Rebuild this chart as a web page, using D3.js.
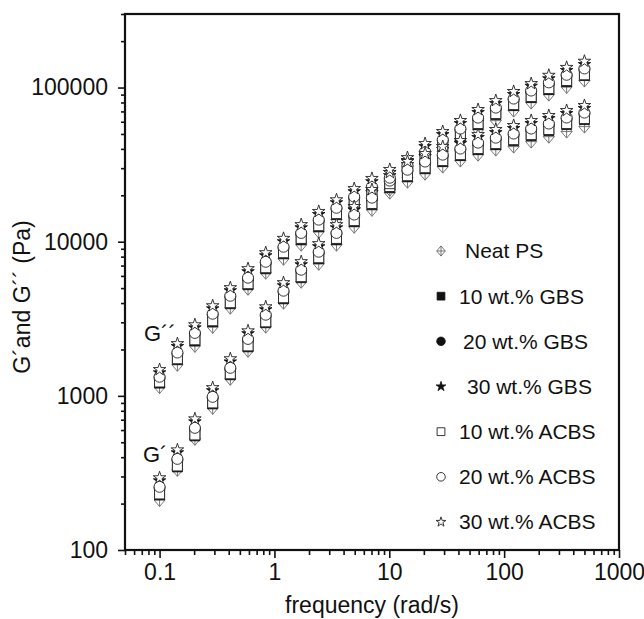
<!DOCTYPE html>
<html><head><meta charset="utf-8">
<script src="https://cdn.jsdelivr.net/npm/d3@7"></script>
<style>
html,body{margin:0;padding:0;background:#fff;}
svg text{font-family:"Liberation Sans",Arial,sans-serif;fill:#111;}
</style></head><body>
<svg id="c" width="644" height="619"></svg>
<script>
// ---- data ----
const frequency = [0.1, 0.143, 0.203, 0.29, 0.413, 0.589, 0.84, 1.2, 1.71, 2.43, 3.47, 4.95, 7.06, 10.1, 14.4, 20.5, 29.2, 41.6, 59.3, 84.6, 121, 172, 245, 350, 500];
const seriesLabels = ["Neat PS", "10 wt.% GBS", "20 wt.% GBS", "30 wt.% GBS", "10 wt.% ACBS", "20 wt.% ACBS", "30 wt.% ACBS"];
// G' (storage modulus, Pa)
const neatPS_G1  = [211, 331, 526, 835, 1290, 1960, 2810, 4020, 5500, 7190, 9560, 12500, 16100, 20800, 26000, 32100, 38400, 45300, 53300, 61000, 70900, 79900, 90000, 101000, 111000];
const gbs10_G1   = [228, 346, 550, 887, 1370, 2080, 2980, 4260, 5840, 7750, 10300, 13500, 17400, 22400, 28100, 34600, 41400, 48800, 57500, 66800, 76400, 86100, 97000, 109000, 120000];
const gbs20_G1   = [253, 384, 611, 970, 1500, 2310, 3310, 4730, 6480, 8480, 11300, 14700, 19000, 24500, 30700, 37800, 45300, 53400, 62900, 73000, 83600, 94200, 106000, 120000, 131000];
const gbs30_G1   = [281, 427, 678, 1080, 1660, 2530, 3620, 5180, 7090, 9280, 12300, 16100, 20800, 26800, 33600, 41400, 49500, 58400, 68800, 78700, 90100, 102000, 114000, 129000, 141000];
const acbs10_G1  = [231, 351, 558, 900, 1390, 2110, 3020, 4330, 5930, 7870, 10500, 13700, 17700, 22800, 28500, 35100, 42000, 49500, 58400, 67800, 77500, 87400, 98500, 111000, 121000];
const acbs20_G1  = [257, 390, 620, 985, 1520, 2340, 3360, 4810, 6580, 8610, 11400, 15000, 19300, 24900, 31200, 38400, 46000, 54200, 63800, 74100, 84800, 95600, 108000, 121000, 133000];
const acbs30_G1  = [294, 446, 709, 1130, 1740, 2640, 3780, 5420, 7420, 9710, 12900, 16900, 21800, 28100, 35100, 43300, 51800, 61100, 72000, 82300, 94200, 106000, 120000, 135000, 148000];
// G'' (loss modulus, Pa)
const neatPS_G2  = [1140, 1590, 2110, 2800, 3730, 4950, 6290, 7750, 9560, 11600, 13900, 16400, 19000, 21800, 24500, 27600, 30700, 33600, 36700, 39600, 41400, 44600, 48000, 51800, 55800];
const gbs10_G2   = [1210, 1720, 2270, 3020, 3960, 5260, 6670, 8360, 10300, 12500, 15000, 17600, 20500, 23400, 26400, 29800, 33100, 36200, 39600, 42600, 45300, 48800, 52600, 57500, 62000];
const gbs20_G2   = [1310, 1880, 2530, 3360, 4400, 5750, 7300, 9140, 11300, 13700, 16400, 19300, 22400, 25600, 28900, 32600, 36200, 39600, 43300, 46600, 49500, 53400, 57500, 62900, 67800];
const gbs30_G2   = [1410, 2090, 2760, 3670, 4810, 6390, 8110, 10000, 12300, 15000, 17900, 21100, 24500, 28100, 31600, 35600, 39600, 43300, 47400, 51000, 54200, 58400, 62900, 67800, 73100];
const acbs10_G2  = [1230, 1740, 2310, 3070, 4020, 5340, 6780, 8480, 10500, 12700, 15200, 17900, 20800, 23800, 26800, 30200, 33600, 36700, 40200, 43300, 45900, 49500, 53400, 58400, 62900];
const acbs20_G2  = [1330, 1910, 2560, 3410, 4460, 5840, 7410, 9280, 11400, 13900, 16600, 19600, 22800, 26000, 29300, 33100, 36700, 40200, 43900, 47300, 50300, 54200, 58400, 63900, 68800];
const acbs30_G2  = [1480, 2180, 2890, 3840, 5030, 6680, 8480, 10500, 12900, 15700, 18700, 22100, 25700, 29400, 33100, 37300, 41400, 45300, 49500, 53400, 56700, 61100, 65800, 70900, 76400];
const xTickValues = [0.1, 1, 10, 100, 1000];
const yTickValues = [100, 1000, 10000, 100000];

// ---- build ----
const G1 = [neatPS_G1, gbs10_G1, gbs20_G1, gbs30_G1, acbs10_G1, acbs20_G1, acbs30_G1];
const G2 = [neatPS_G2, gbs10_G2, gbs20_G2, gbs30_G2, acbs10_G2, acbs20_G2, acbs30_G2];
const shapes = ["diamondCross", "square", "circle", "star", "square", "circle", "star"];
const filled = [false, true, true, true, false, false, false];

const svg = d3.select("#c");
const L = 125, R = 619, T = 14, B = 550;
const x = d3.scaleLog().domain([0.05, 1000]).range([L, R]);
const y = d3.scaleLog().domain([100, 300000]).range([B, T]);

function markerPath(shape, k) {
  if (shape === "square") return d3.symbol(d3.symbolSquare, Math.pow(10 * k, 2))();
  if (shape === "circle") return d3.symbol(d3.symbolCircle, Math.PI * Math.pow(5.5 * k, 2))();
  if (shape === "star") return d3.symbol(d3.symbolStar, Math.pow(6.6 * k, 2) / 0.8908130915292852)();
  const w = 5.5 * k, h = 6.5 * k;
  return `M0,${-h}L${w},0L0,${h}L${-w},0Z M0,${-h}V${h} M${-w},0H${w}`;
}
function styleMarker(sel, i) {
  if (i === 0) sel.attr("fill", "#fff").attr("stroke", "#6a6a6a").attr("stroke-width", 0.9);
  else if (filled[i]) sel.attr("fill", "#111").attr("stroke", "#111").attr("stroke-width", 0.8);
  else sel.attr("fill", "#fff").attr("stroke", "#222").attr("stroke-width", 0.9);
}

// minor ticks
const decadesX = [0.01, 0.1, 1, 10, 100];
const minorX = [];
decadesX.forEach(d => { for (let m = 2; m <= 9; m++) { const v = d * m; if (v >= 0.05 && v < 1000) minorX.push(v); } });
const minorY = [];
[100, 1000, 10000, 100000].forEach(d => { for (let m = 2; m <= 9; m++) { const v = d * m; if (v <= 300000) minorY.push(v); } });

const axisG = svg.append("g");
axisG.append("g").attr("transform", `translate(0,${B})`)
  .call(d3.axisBottom(x).tickValues(minorX).tickSize(5).tickFormat(""))
  .call(g => g.select(".domain").remove());
axisG.append("g").attr("transform", `translate(0,${B})`)
  .call(d3.axisBottom(x).tickValues(xTickValues).tickSize(8).tickPadding(6).tickFormat(d => String(d)))
  .call(g => g.select(".domain").remove())
  .call(g => g.selectAll("text").attr("font-size", 23).attr("fill", "#111").attr("font-family", "'Liberation Sans',Arial,sans-serif"));
axisG.append("g").attr("transform", `translate(${L},0)`)
  .call(d3.axisLeft(y).tickValues(minorY).tickSize(4).tickFormat(""))
  .call(g => g.select(".domain").remove());
axisG.append("g").attr("transform", `translate(${L},0)`)
  .call(d3.axisLeft(y).tickValues(yTickValues).tickSize(7).tickPadding(10).tickFormat(d => String(d)))
  .call(g => g.select(".domain").remove())
  .call(g => g.selectAll("text").attr("font-size", 23).attr("fill", "#111").attr("font-family", "'Liberation Sans',Arial,sans-serif"));
axisG.selectAll(".tick line").attr("stroke", "#111").attr("stroke-width", 1.6);

// frame
svg.append("rect").attr("x", L).attr("y", T).attr("width", R - L).attr("height", B - T)
  .attr("fill", "none").attr("stroke", "#111").attr("stroke-width", 2.2);

// data markers
const plot = svg.append("g");
for (let i = 0; i < 7; i++) {
  [G1[i], G2[i]].forEach(arr => {
    plot.selectAll(null).data(arr.map((v, j) => [frequency[j], v])).enter()
      .append("path")
      .attr("d", markerPath(shapes[i], 1))
      .attr("transform", d => `translate(${x(d[0])},${y(d[1])})`)
      .call(s => styleMarker(s, i));
  });
}

// curve labels
svg.append("text").attr("x", 144).attr("y", 341).attr("font-size", 22).text("G\u00B4\u00B4");
svg.append("text").attr("x", 143).attr("y", 462).attr("font-size", 22).text("G\u00B4");

// legend
const legend = svg.append("g");
const legY = d3.scaleLinear().domain([0, 6]).range([251, 522]);
const labelShift = [6, 0, 4, 8, 0, 0, 0];
seriesLabels.forEach((lab, i) => {
  legend.append("path").attr("d", markerPath(shapes[i], 0.78))
    .attr("transform", `translate(441,${legY(i)})`).call(s => styleMarker(s, i));
  legend.append("text").attr("x", 459 + labelShift[i]).attr("y", legY(i)).attr("dy", "0.35em")
    .attr("font-size", 21).text(lab);
});

// axis titles
svg.append("text").attr("x", (L + R) / 2).attr("y", 613).attr("text-anchor", "middle")
  .attr("font-size", 23).text("frequency (rad/s)");
svg.append("text").attr("transform", `translate(30,${(T + B) / 2 + 15}) rotate(-90)`)
  .attr("text-anchor", "middle").attr("font-size", 23).text("G\u00B4and G\u00B4\u00B4 (Pa)");
</script>
</body></html>
